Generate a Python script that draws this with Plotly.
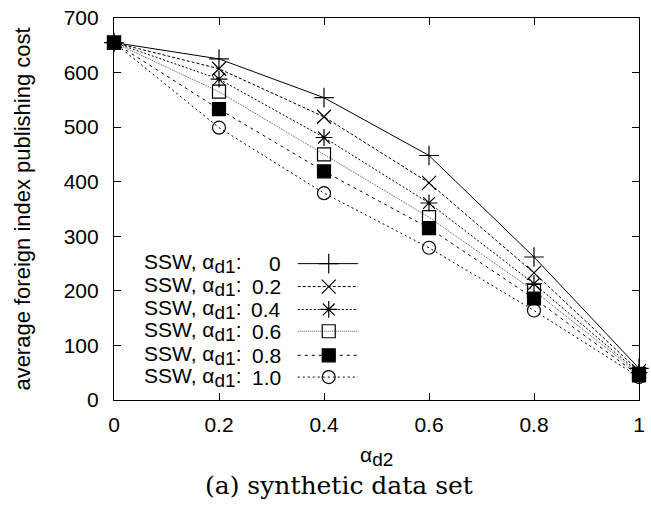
import plotly.graph_objects as go

x_vals = [0, 0.2, 0.4, 0.6, 0.8, 1.0]
alpha_labels = ["0", "0.2", "0.4", "0.6", "0.8", "1.0"]
s_00 = [655, 625, 554, 448, 262, 58]
s_02 = [655, 607, 519, 398, 233, 53]
s_04 = [655, 588, 481, 361, 213, 50]
s_06 = [655, 565, 450, 335, 200, 48]
s_08 = [655, 533, 419, 315, 186, 45]
s_10 = [655, 499, 379, 279, 164, 42]
series = [s_00, s_02, s_04, s_06, s_08, s_10]

symbols = ["cross-thin-open", "x-thin-open", "asterisk-open", "square-open", "square", "circle-open"]
sizes = [14, 14, 14, 13, 13, 13]
dashes = ["solid", "3px,2px", "2px,2px", "1px,1px", "3px,4px", "2px,3px"]
line_colors = ["black", "black", "black", "#555555", "black", "black"]

FONT = "Liberation Sans, Arial"
FS = 21

fig = go.Figure()
for i, ys in enumerate(series):
    fig.add_trace(go.Scatter(
        x=x_vals, y=ys, mode="lines+markers",
        line=dict(color=line_colors[i], width=1, dash=dashes[i]),
        marker=dict(symbol=symbols[i], size=sizes[i], color="black",
                    line=dict(color="black", width=1.2)),
        showlegend=False, cliponaxis=False,
    ))

# manual legend (text left, sample right), drawn on a hidden overlay axis
leg_rows = [0.357, 0.297, 0.237, 0.180, 0.117, 0.060]
for i, yy in enumerate(leg_rows):
    fig.add_trace(go.Scatter(
        x=[0.350, 0.465], y=[yy, yy], mode="lines",
        line=dict(color=line_colors[i], width=1, dash=dashes[i]),
        xaxis="x2", yaxis="y2", showlegend=False, hoverinfo="skip",
    ))
    fig.add_trace(go.Scatter(
        x=[0.409], y=[yy], mode="markers",
        marker=dict(symbol=symbols[i], size=sizes[i], color="black",
                    line=dict(color="black", width=1.2)),
        xaxis="x2", yaxis="y2", showlegend=False, hoverinfo="skip",
    ))
    fig.add_annotation(x=0.054, y=yy, xref="paper", yref="paper",
                       text="SSW, α<sub><span style='font-size:19px'>d1</span></sub>:",
                       showarrow=False, xanchor="left", yanchor="middle",
                       font=dict(family=FONT, size=FS, color="black"))
    fig.add_annotation(x=0.322, y=yy, xref="paper", yref="paper",
                       text=alpha_labels[i], showarrow=False,
                       xanchor="right", yanchor="middle",
                       font=dict(family=FONT, size=FS, color="black"))

fig.add_annotation(x=0.5, y=-0.148, xref="paper", yref="paper",
                   text="α<sub><span style='font-size:19px'>d2</span></sub>", showarrow=False,
                   xanchor="center", yanchor="middle",
                   font=dict(family=FONT, size=FS, color="black"))
fig.add_annotation(x=0.429, y=-0.225, xref="paper", yref="paper",
                   text="(a) synthetic data set", showarrow=False,
                   xanchor="center", yanchor="middle",
                   font=dict(family="DejaVu Serif, serif", size=25, color="black"))

axis_common = dict(showline=True, linecolor="black", linewidth=1.2, mirror="ticks",
                   ticks="inside", ticklen=7, tickcolor="black", tickwidth=1,
                   showgrid=False, zeroline=False,
                   tickfont=dict(family=FONT, size=FS, color="black"))

fig.update_layout(
    width=651, height=506,
    margin=dict(l=114, r=6, t=16, b=106),
    plot_bgcolor="white", paper_bgcolor="white",
    xaxis=dict(range=[0, 1], tickvals=[0, 0.2, 0.4, 0.6, 0.8, 1],
               ticktext=["0", "0.2", "0.4", "0.6", "0.8", "1"],
               ticklabelstandoff=6, **axis_common),
    yaxis=dict(range=[0, 700], tickvals=[0, 100, 200, 300, 400, 500, 600, 700],
               ticklabelstandoff=10,
               title=dict(text="average foreign index publishing cost",
                          font=dict(family=FONT, size=22, color="black"),
                          standoff=26),
               **axis_common),
    xaxis2=dict(overlaying="x", range=[0, 1], visible=False, anchor="y2"),
    yaxis2=dict(overlaying="y", range=[0, 1], visible=False, anchor="x2"),
)

fig.write_html("out.html")
